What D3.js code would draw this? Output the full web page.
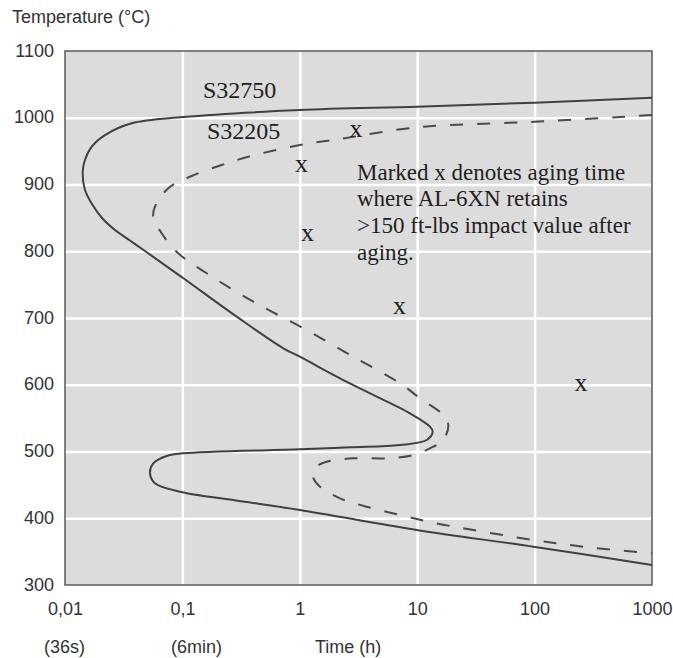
<!DOCTYPE html>
<html>
<head>
<meta charset="utf-8">
<script src="https://cdn.jsdelivr.net/npm/d3@7/dist/d3.min.js"></script>
<style>
  html, body { margin: 0; padding: 0; background: #ffffff; }
  svg { display: block; }
  .sans { font-family: "Liberation Sans", Arial, Helvetica, sans-serif; }
  .serif { font-family: "Liberation Serif", "Times New Roman", Times, serif; }
</style>
</head>
<body>
<svg id="chart" width="673" height="658"></svg>
<script>
// ---- data ----
const timeTicks = [0.01, 0.1, 1, 10, 100, 1000];
const timeTickLabels = ["0,01", "0,1", "1", "10", "100", "1000"];
const tempTicks = [300, 400, 500, 600, 700, 800, 900, 1000, 1100];

// S32750 (solid) curve, traced in order
const s32750Time = [1000, 100, 10, 1.0, 0.101, 0.037, 0.0219, 0.0169, 0.0148, 0.01415, 0.0148, 0.01698, 0.02067, 0.02667, 0.03579, 0.048, 0.102, 0.29, 0.724, 1.0, 2.2, 3.71, 8.68, 12.85, 13.55, 12.05, 7.14, 2.68, 1.0, 0.102, 0.0735, 0.0565, 0.053, 0.0584, 0.0954, 0.271, 1.0, 9.9, 97.5, 1000];
const s32750Temp = [1030, 1022.5, 1016.6, 1011.6, 1001, 991.7, 974, 956.6, 936.7, 919.2, 891.8, 870.8, 849.8, 831.8, 816.1, 800.4, 759.5, 702, 654.6, 642, 609.7, 589.6, 557.2, 537.2, 529.7, 517.2, 509.7, 506.3, 503.3, 497.3, 493.3, 482.3, 467.3, 452.4, 439.8, 427.3, 412.4, 382.4, 357.4, 330];

// S32205 (dashed) curve, traced in order
const s32205Time = [1000, 100, 10, 2.2, 1.0, 0.364, 0.216, 0.12, 0.0758, 0.0584, 0.0565, 0.0666, 0.0923, 0.161, 0.402, 1.071, 2.856, 7.14, 10.56, 16.69, 18.4, 16.69, 13.7, 9.27, 5.5, 2.856, 1.694, 1.393, 1.303, 1.486, 2.2, 3.71, 7.14, 13.7, 30.1, 97.5, 260, 1000];
const s32205Temp = [1004, 994, 985.7, 968.2, 959.2, 941.6, 929.2, 912.7, 894.3, 866.7, 851.8, 826.9, 796.9, 767, 724.4, 684.6, 642, 602.2, 579.7, 554.7, 539.7, 517.2, 507.2, 494.8, 489.8, 489.8, 484.7, 477.2, 461, 447.3, 429.9, 417.3, 404.9, 393.3, 382.4, 367.4, 357.4, 347.5];

// "x" markers
const markTime = [3.01, 1.034, 1.163, 7.07, 248.5];
const markTemp = [980, 927, 824, 715, 600];

const seriesLabels = ["S32750", "S32205"];
const noteLines = ["Marked x denotes aging time", "where AL-6XN retains", ">150 ft-lbs impact value after", "aging."];

// ---- layout ----
const svg = d3.select("#chart");
const L = 65, R = 652, T = 51, B = 585;
const x = d3.scaleLog().domain([0.01, 1000]).range([L, R]);
const y = d3.scaleLinear().domain([300, 1100]).range([B, T]);

// plot background
svg.append("rect").attr("x", L).attr("y", T).attr("width", R - L).attr("height", B - T)
  .attr("fill", "#dcdcdc");

// grid lines
const gx = svg.append("g").attr("transform", `translate(0,${B})`)
  .call(d3.axisBottom(x).tickValues(timeTicks.slice(1, -1)).tickSize(-(B - T)).tickFormat(""));
gx.select(".domain").remove();
gx.selectAll("line").attr("stroke", "#ffffff").attr("stroke-width", 2.5);

const gy = svg.append("g").attr("transform", `translate(${L},0)`)
  .call(d3.axisLeft(y).tickValues(tempTicks.slice(1, -1)).tickSize(-(R - L)).tickFormat(""));
gy.select(".domain").remove();
gy.selectAll("line").attr("stroke", "#ffffff").attr("stroke-width", 2.5);

// frame
svg.append("rect").attr("x", L).attr("y", T).attr("width", R - L).attr("height", B - T)
  .attr("fill", "none").attr("stroke", "#5a5a5a").attr("stroke-width", 1.5);

// tick labels via axes
const ax = svg.append("g").attr("transform", `translate(0,${B})`)
  .call(d3.axisBottom(x).tickValues(timeTicks).tickSize(0).tickPadding(17)
    .tickFormat((d, i) => timeTickLabels[i]));
ax.select(".domain").remove();
ax.selectAll("text").attr("class", "sans").attr("font-size", 18).attr("fill", "#333");

const ay = svg.append("g").attr("transform", `translate(${L},0)`)
  .call(d3.axisLeft(y).tickValues(tempTicks).tickSize(0).tickPadding(11).tickFormat(d3.format("d")));
ay.select(".domain").remove();
ay.selectAll("text").attr("class", "sans").attr("font-size", 18).attr("fill", "#333").attr("dy", "0.28em");

// axis titles
svg.append("text").attr("class", "sans").attr("x", 12).attr("y", 23)
  .attr("font-size", 18).attr("fill", "#333").text("Temperature (°C)");
svg.append("text").attr("class", "sans").attr("x", 44).attr("y", 653)
  .attr("font-size", 18).attr("fill", "#333").text("(36s)");
svg.append("text").attr("class", "sans").attr("x", 171).attr("y", 653)
  .attr("font-size", 18).attr("fill", "#333").text("(6min)");
svg.append("text").attr("class", "sans").attr("x", 315).attr("y", 653)
  .attr("font-size", 18).attr("fill", "#333").text("Time (h)");

// curves
const line = d3.line().x(d => x(d[0])).y(d => y(d[1])).curve(d3.curveCatmullRom.alpha(0.5));
const solidPts = s32750Time.map((t, i) => [t, s32750Temp[i]]);
const dashPts = s32205Time.map((t, i) => [t, s32205Temp[i]]);

const clip = svg.append("clipPath").attr("id", "plotclip");
clip.append("rect").attr("x", L).attr("y", T).attr("width", R - L).attr("height", B - T);

svg.append("path").attr("d", line(dashPts)).attr("fill", "none")
  .attr("stroke", "#4a4a4a").attr("stroke-width", 2).attr("stroke-dasharray", "13,14")
  .attr("clip-path", "url(#plotclip)");
svg.append("path").attr("d", line(solidPts)).attr("fill", "none")
  .attr("stroke", "#404040").attr("stroke-width", 2)
  .attr("clip-path", "url(#plotclip)");

// series labels
svg.append("text").attr("class", "serif").attr("x", 203).attr("y", 98)
  .attr("font-size", 24).attr("fill", "#222").text(seriesLabels[0]);
svg.append("text").attr("class", "serif").attr("x", 207).attr("y", 138.5)
  .attr("font-size", 24).attr("fill", "#222").text(seriesLabels[1]);

// note text
const note = svg.append("text").attr("class", "serif").attr("font-size", 23).attr("fill", "#222");
noteLines.forEach((s, i) => {
  note.append("tspan").attr("x", 357).attr("y", 179.5 + i * 26.8).text(s);
});

// x markers
svg.append("g").selectAll("text").data(markTime.map((t, i) => [t, markTemp[i]])).join("text")
  .attr("class", "serif").attr("font-size", 26).attr("fill", "#222")
  .attr("text-anchor", "middle")
  .attr("x", d => x(d[0])).attr("y", d => y(d[1]) + 6)
  .text("x");
</script>
</body>
</html>
